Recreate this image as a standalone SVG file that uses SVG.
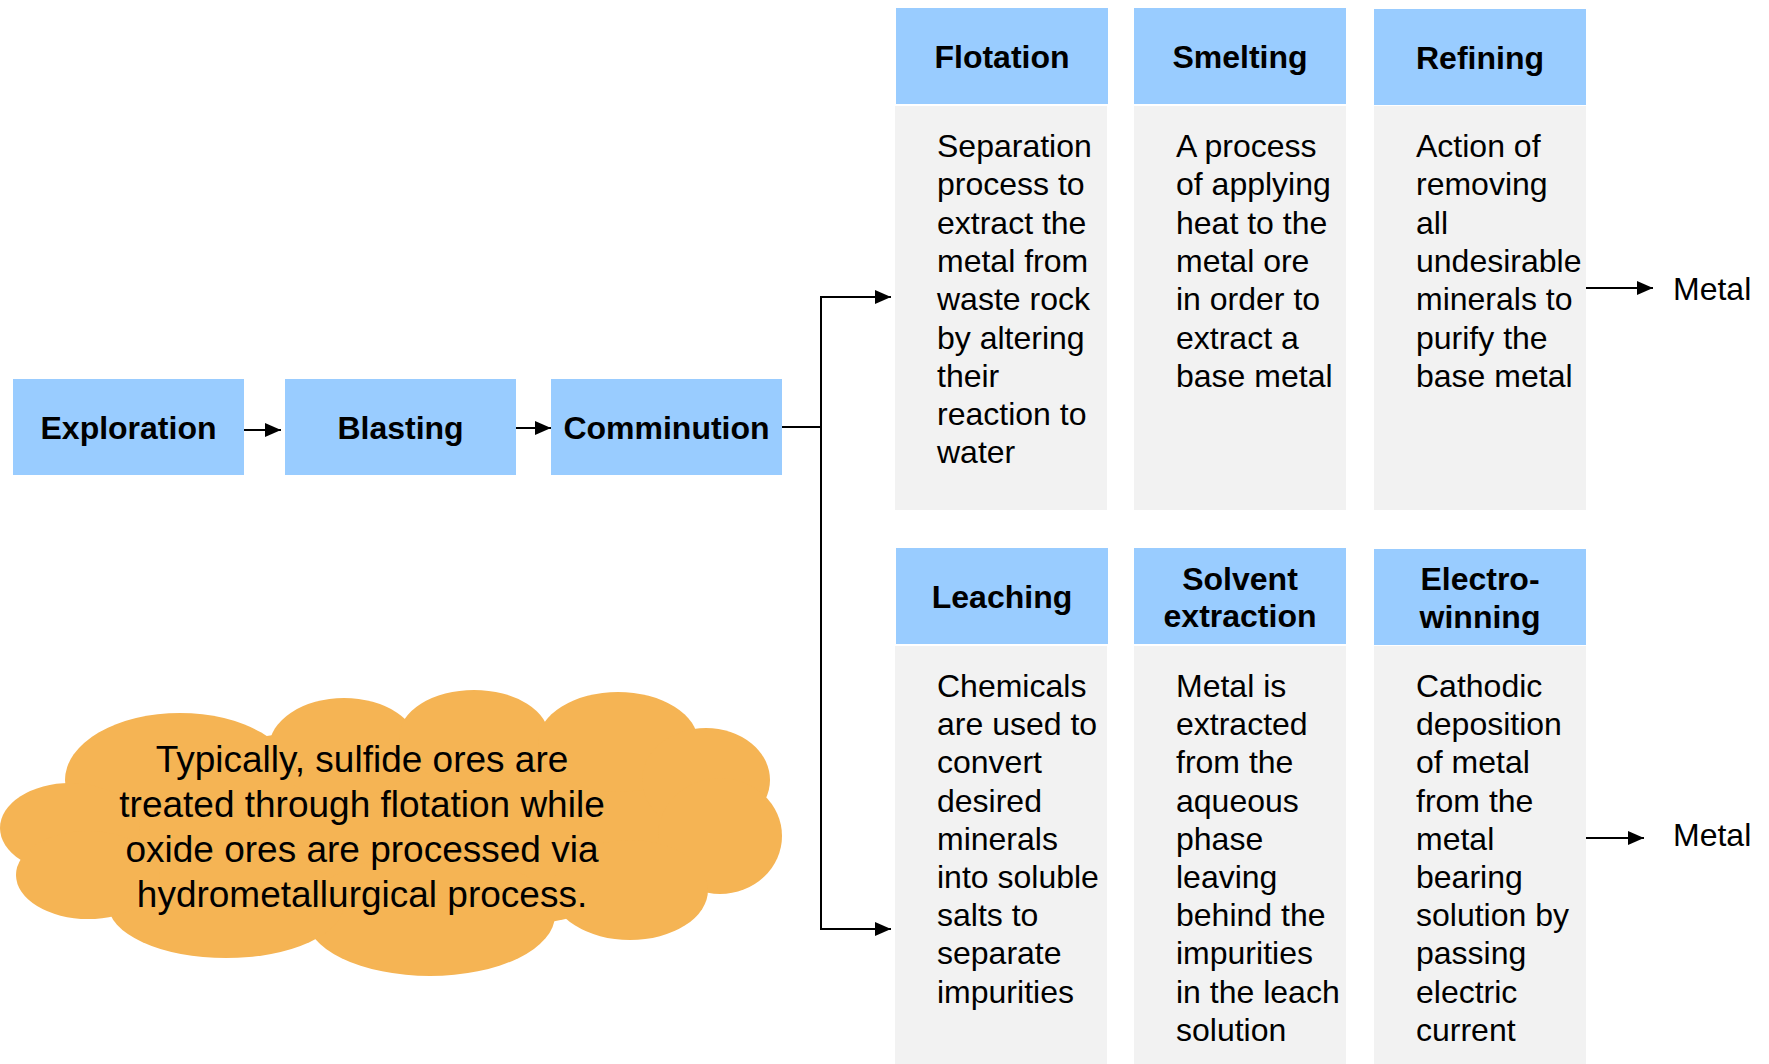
<svg xmlns="http://www.w3.org/2000/svg" width="1769" height="1064" viewBox="0 0 1769 1064">
<style>
.hdr{fill:#99CCFF}
.body{fill:#F2F2F2}
.ht{font-family:"Liberation Sans",Arial,sans-serif;font-weight:bold;font-size:32px;fill:#000;text-anchor:middle}
.bt{font-family:"Liberation Sans",Arial,sans-serif;font-size:32px;fill:#000}
.ct{font-family:"Liberation Sans",Arial,sans-serif;font-size:37px;fill:#000;text-anchor:middle}
.ln{stroke:#000;stroke-width:2;fill:none}
.cloud{fill:#F5B454}
</style>
<defs>
<marker id="ah" markerUnits="userSpaceOnUse" markerWidth="16" markerHeight="14" refX="16" refY="7" orient="auto">
<path d="M0,0 L16,7 L0,14 z" fill="#000"/>
</marker>
</defs>
<rect width="1769" height="1064" fill="#fff"/>

<g id="exploration">
<rect class="hdr" x="13" y="379" width="231" height="96"/>
<text class="ht" x="128.5" y="439">Exploration</text>
</g>
<g id="blasting">
<rect class="hdr" x="285" y="379" width="231" height="96"/>
<text class="ht" x="400.5" y="439">Blasting</text>
</g>
<g id="comminution">
<rect class="hdr" x="551" y="379" width="231" height="96"/>
<text class="ht" x="666.5" y="439">Comminution</text>
</g>

<g id="flotation">
<rect class="hdr" x="896" y="8" width="212" height="96"/>
<rect class="body" x="895" y="106" width="212" height="404"/>
<text class="ht" x="1002" y="68">Flotation</text>
<text class="bt" y="157"><tspan x="937">Separation</tspan><tspan x="937" dy="38.3">process to</tspan><tspan x="937" dy="38.3">extract the</tspan><tspan x="937" dy="38.3">metal from</tspan><tspan x="937" dy="38.3">waste rock</tspan><tspan x="937" dy="38.3">by altering</tspan><tspan x="937" dy="38.3">their</tspan><tspan x="937" dy="38.3">reaction to</tspan><tspan x="937" dy="38.3">water</tspan></text>
</g>
<g id="smelting">
<rect class="hdr" x="1134" y="8" width="212" height="96"/>
<rect class="body" x="1134" y="106" width="212" height="404"/>
<text class="ht" x="1240" y="68">Smelting</text>
<text class="bt" y="157"><tspan x="1176">A process</tspan><tspan x="1176" dy="38.3">of applying</tspan><tspan x="1176" dy="38.3">heat to the</tspan><tspan x="1176" dy="38.3">metal ore</tspan><tspan x="1176" dy="38.3">in order to</tspan><tspan x="1176" dy="38.3">extract a</tspan><tspan x="1176" dy="38.3">base metal</tspan></text>
</g>
<g id="refining">
<rect class="hdr" x="1374" y="9" width="212" height="96"/>
<rect class="body" x="1374" y="106" width="212" height="404"/>
<text class="ht" x="1480" y="69">Refining</text>
<text class="bt" y="157"><tspan x="1416">Action of</tspan><tspan x="1416" dy="38.3">removing</tspan><tspan x="1416" dy="38.3">all</tspan><tspan x="1416" dy="38.3">undesirable</tspan><tspan x="1416" dy="38.3">minerals to</tspan><tspan x="1416" dy="38.3">purify the</tspan><tspan x="1416" dy="38.3">base metal</tspan></text>
</g>

<g id="leaching">
<rect class="hdr" x="896" y="548" width="212" height="96"/>
<rect class="body" x="895" y="646" width="212" height="418"/>
<text class="ht" x="1002" y="608">Leaching</text>
<text class="bt" y="697"><tspan x="937">Chemicals</tspan><tspan x="937" dy="38.2">are used to</tspan><tspan x="937" dy="38.2">convert</tspan><tspan x="937" dy="38.2">desired</tspan><tspan x="937" dy="38.2">minerals</tspan><tspan x="937" dy="38.2">into soluble</tspan><tspan x="937" dy="38.2">salts to</tspan><tspan x="937" dy="38.2">separate</tspan><tspan x="937" dy="38.2">impurities</tspan></text>
</g>
<g id="solvent-extraction">
<rect class="hdr" x="1134" y="548" width="212" height="96"/>
<rect class="body" x="1134" y="646" width="212" height="418"/>
<text class="ht" x="1240" y="589.5">Solvent</text>
<text class="ht" x="1240" y="627">extraction</text>
<text class="bt" y="697"><tspan x="1176">Metal is</tspan><tspan x="1176" dy="38.2">extracted</tspan><tspan x="1176" dy="38.2">from the</tspan><tspan x="1176" dy="38.2">aqueous</tspan><tspan x="1176" dy="38.2">phase</tspan><tspan x="1176" dy="38.2">leaving</tspan><tspan x="1176" dy="38.2">behind the</tspan><tspan x="1176" dy="38.2">impurities</tspan><tspan x="1176" dy="38.2">in the leach</tspan><tspan x="1176" dy="38.2">solution</tspan></text>
</g>
<g id="electro-winning">
<rect class="hdr" x="1374" y="549" width="212" height="96"/>
<rect class="body" x="1374" y="646" width="212" height="418"/>
<text class="ht" x="1480" y="590">Electro-</text>
<text class="ht" x="1480" y="628">winning</text>
<text class="bt" y="697"><tspan x="1416">Cathodic</tspan><tspan x="1416" dy="38.2">deposition</tspan><tspan x="1416" dy="38.2">of metal</tspan><tspan x="1416" dy="38.2">from the</tspan><tspan x="1416" dy="38.2">metal</tspan><tspan x="1416" dy="38.2">bearing</tspan><tspan x="1416" dy="38.2">solution by</tspan><tspan x="1416" dy="38.2">passing</tspan><tspan x="1416" dy="38.2">electric</tspan><tspan x="1416" dy="38.2">current</tspan></text>
</g>

<g id="metal-top">
<text class="bt" x="1673" y="300">Metal</text>
</g>
<g id="metal-bottom">
<text class="bt" x="1673" y="846">Metal</text>
</g>

<g id="cloud-note">
<g class="cloud">
<ellipse cx="392" cy="832" rx="310" ry="105"/>
<ellipse cx="180" cy="780" rx="115" ry="67"/>
<ellipse cx="344" cy="748" rx="75" ry="50"/>
<ellipse cx="474" cy="737" rx="75" ry="47"/>
<ellipse cx="618" cy="742" rx="80" ry="50"/>
<ellipse cx="706" cy="780" rx="64" ry="52"/>
<ellipse cx="720" cy="836" rx="62" ry="58"/>
<ellipse cx="630" cy="890" rx="78" ry="50"/>
<ellipse cx="430" cy="915" rx="125" ry="61"/>
<ellipse cx="226" cy="904" rx="118" ry="54"/>
<ellipse cx="70" cy="828" rx="70" ry="45"/>
<ellipse cx="88" cy="875" rx="72" ry="44"/>
</g>
<text class="ct" x="362" y="772">Typically, sulfide ores are</text>
<text class="ct" x="362" y="817">treated through flotation while</text>
<text class="ct" x="362" y="862">oxide ores are processed via</text>
<text class="ct" x="362" y="907">hydrometallurgical process.</text>
</g>

<g id="connectors">
<line class="ln" x1="244" y1="430" x2="281" y2="430" marker-end="url(#ah)"/>
<line class="ln" x1="516" y1="428" x2="551" y2="428" marker-end="url(#ah)"/>
<line class="ln" x1="782" y1="427" x2="821" y2="427"/>
<line class="ln" x1="821" y1="296" x2="821" y2="930" stroke-width="2.5"/>
<line class="ln" x1="820" y1="297" x2="891" y2="297" marker-end="url(#ah)"/>
<line class="ln" x1="820" y1="929" x2="891" y2="929" marker-end="url(#ah)"/>
<line class="ln" x1="1586" y1="288" x2="1653" y2="288" marker-end="url(#ah)"/>
<line class="ln" x1="1586" y1="838" x2="1644" y2="838" marker-end="url(#ah)"/>
</g>
</svg>
